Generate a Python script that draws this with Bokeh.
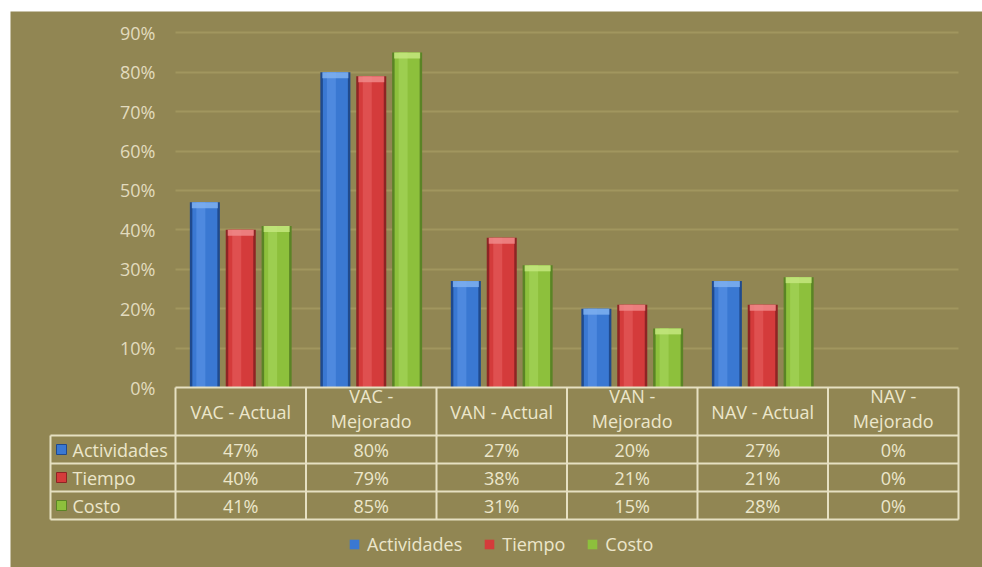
import numpy as np
from bokeh.plotting import figure
from bokeh.models import Range1d, Legend, LegendItem, FixedTicker, Grid
from bokeh.core.properties import value
from bokeh.embed import file_html
from bokeh.resources import INLINE

# ---------------- data ----------------
categories = ["VAC - Actual", "VAC - Mejorado", "VAN - Actual",
              "VAN - Mejorado", "NAV - Actual", "NAV - Mejorado"]
header_labels = ["VAC - Actual", "VAC -\nMejorado", "VAN - Actual",
                 "VAN -\nMejorado", "NAV - Actual", "NAV -\nMejorado"]
series_names = ["Actividades", "Tiempo", "Costo"]
actividades = [0.47, 0.80, 0.27, 0.20, 0.27, 0.00]
tiempo = [0.40, 0.79, 0.38, 0.21, 0.21, 0.00]
costo = [0.41, 0.85, 0.31, 0.15, 0.28, 0.00]
y_ticks = [0.0, 0.1, 0.2, 0.3, 0.4, 0.5, 0.6, 0.7, 0.8, 0.9]
y_tick_labels = ["0%", "10%", "20%", "30%", "40%", "50%", "60%", "70%", "80%", "90%"]

# ---------------- style ----------------
BG = "#918653"
GRID = "#A1965F"
TXT = "#ECE6CB"
TICK_TXT = "#E2DBBE"
LINE = "#E6E0C2"
FONT = "Open Sans"
FS = "18px"

main_colors = ["#3A78D2", "#D43B3B", "#8DC03C"]
dark_colors = ["#1F4A8E", "#8E2424", "#5A8425"]
light_colors = ["#5E98EA", "#E86262", "#ACD861"]
cap_colors = ["#7FB0F0", "#F08A8A", "#C4E67E"]

# ---------------- geometry (px -> data) ----------------
W, H = 982, 567
LEFT, TOP = 10, 11
FW, FH = W - LEFT, H - TOP
UNIT_X = 130.5          # px per category
UNIT_Y = 394.1          # px per 1.0 (100%)
X0_PX = 240.25 - LEFT   # frame px of category 0 centre
Y0_PX = 387 - TOP       # frame px of value 0

x_start = (0 - X0_PX) / UNIT_X
x_end = (FW - X0_PX) / UNIT_X
y_end = Y0_PX / UNIT_Y
y_start = -(FH - Y0_PX) / UNIT_Y

def dy(px):
    return px / UNIT_Y

def dx(px):
    return px / UNIT_X

p = figure(width=W, height=H, x_range=Range1d(x_start, x_end),
           y_range=Range1d(y_start, y_end), output_backend="svg",
           toolbar_location=None, min_border=0, min_border_left=LEFT,
           min_border_top=TOP, x_axis_location=None, y_axis_location=None,
           background_fill_color=BG, border_fill_color="white",
           outline_line_color=None)
for g in p.grid:
    g.visible = False

n = len(categories)
idx = np.arange(n)

# gridlines
grid = Grid(dimension=1, ticker=FixedTicker(ticks=y_ticks[1:]),
            grid_line_color=GRID, grid_line_width=2)
try:
    grid.cross_bounds = (-0.5, n - 0.5)
except Exception:
    pass
p.add_layout(grid)

# y tick labels
p.text(x=[-0.5 - dx(20)] * len(y_ticks), y=y_ticks, text=y_tick_labels,
       text_align="right", text_baseline="middle", text_color=TICK_TXT,
       text_font=value(FONT), text_font_size=FS)

# bars
series = [actividades, tiempo, costo]
offsets = [-0.275, 0.0, 0.275]
bw = 0.23
main_renderers = []
for s, vals in enumerate(series):
    v = np.array(vals)
    xs = idx + offsets[s]
    p.vbar(x=xs, top=v, bottom=0, width=bw, fill_color=dark_colors[s], line_color=None)
    r = p.vbar(x=xs, top=v, bottom=0, width=bw - dx(5), fill_color=main_colors[s], line_color=None)
    main_renderers.append(r)
    p.vbar(x=xs - dx(4), top=v, bottom=0, width=dx(9), fill_color=light_colors[s],
           fill_alpha=0.55, line_color=None)
    capb = np.maximum(v - dy(6), 0)
    p.vbar(x=xs, top=v, bottom=capb, width=bw - dx(4), fill_color=cap_colors[s],
           fill_alpha=0.85, line_color=None)

# ---------------- data table ----------------
header_h = dy(48)
row_h = dy(28)
label_left = -0.5 - dx(125)
row_tops = [-header_h - i * row_h for i in range(len(series))]
bottom = -header_h - len(series) * row_h

# horizontal lines
hx0 = [-0.5] + [label_left] * (len(series) + 1)
hy = [0.0] + [-header_h - i * row_h for i in range(len(series) + 1)]
p.segment(x0=hx0, y0=hy, x1=[n - 0.5] * len(hy), y1=hy, line_color=LINE, line_width=2)
# vertical lines
vx = [i - 0.5 for i in range(n + 1)]
p.segment(x0=vx, y0=[0.0] * len(vx), x1=vx, y1=[bottom] * len(vx), line_color=LINE, line_width=2)
p.segment(x0=[label_left], y0=[-header_h], x1=[label_left], y1=[bottom], line_color=LINE, line_width=2)

# header labels
single = ["\n" not in t for t in header_labels]
p.text(x=idx, y=[-header_h / 2 + (0 if s1 else dy(3)) for s1 in single] , text=header_labels,
       text_align="center", text_baseline="middle", text_color=TXT, text_font=value(FONT),
       text_font_size=FS, text_line_height=1.05)

# values
for s, vals in enumerate(series):
    yc = row_tops[s] - row_h / 2
    p.text(x=idx, y=[yc] * n, text=[f"{round(v * 100)}%" for v in vals],
           text_align="center", text_baseline="middle", text_color=TXT,
           text_font=value(FONT), text_font_size=FS)

# row labels with colour keys
row_y = [t - row_h / 2 for t in row_tops]
p.text(x=[label_left + dx(22)] * len(series), y=row_y, text=series_names,
       text_align="left", text_baseline="middle", text_color=TXT,
       text_font=value(FONT), text_font_size=FS)
p.scatter(x=[label_left + dx(11)] * len(series), y=row_y, marker="square", size=10,
          fill_color=main_colors, line_color=dark_colors, line_width=1)

# legend
legend = Legend(items=[LegendItem(label=series_names[i], renderers=[main_renderers[i]])
                       for i in range(len(series))],
                orientation="horizontal", location=(338, 11),
                glyph_width=12, glyph_height=12, label_standoff=7, spacing=21,
                padding=2, margin=0, border_line_color=None,
                background_fill_alpha=0, label_text_color=TXT,
                label_text_font=FONT, label_text_font_size=FS,
                label_height=20)
p.add_layout(legend)

open("out.html", "w").write(file_html(p, INLINE))
